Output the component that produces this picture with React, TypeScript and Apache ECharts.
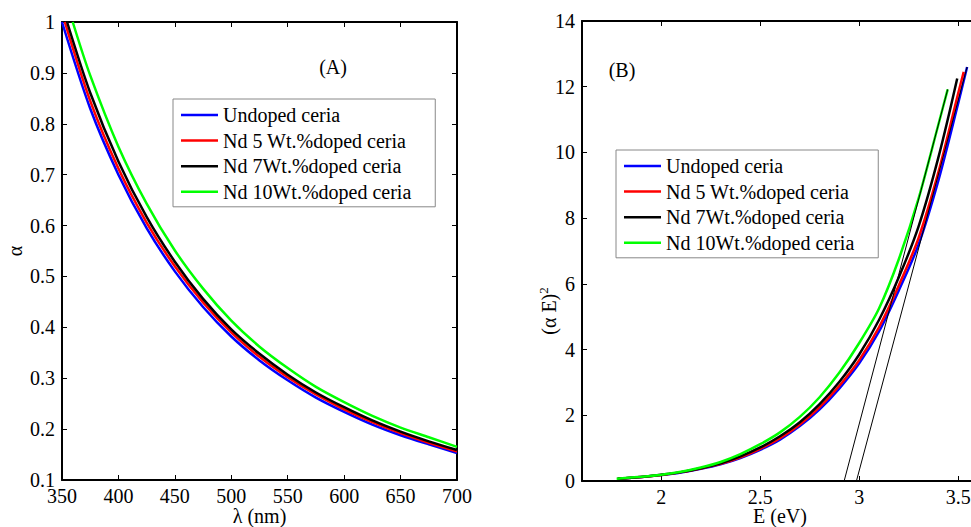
import React, { useEffect, useRef } from "react";
import * as echarts from "echarts";

// ---------- Data ----------
const seriesNames = [
  "Undoped ceria",
  "Nd 5 Wt.%doped ceria",
  "Nd 7Wt.%doped ceria",
  "Nd 10Wt.%doped ceria",
];
const seriesColors = ["#0000ff", "#ff0000", "#000000", "#00ff00"];

// Panel (A): absorption coefficient vs wavelength
const lambdaUndoped = [350, 375, 400, 425, 450, 475, 500, 525, 550, 575, 600, 625, 650, 675, 700];
const alphaUndoped = [1.0, 0.83, 0.7, 0.595, 0.51, 0.44, 0.382, 0.335, 0.296, 0.262, 0.234, 0.209, 0.188, 0.17, 0.153];

const lambdaNd5 = [352.5, 375, 400, 425, 450, 475, 500, 525, 550, 575, 600, 625, 650, 675, 700];
const alphaNd5 = [1.0, 0.845, 0.712, 0.606, 0.52, 0.449, 0.39, 0.342, 0.302, 0.268, 0.239, 0.214, 0.192, 0.173, 0.156];

const lambdaNd7 = [354.5, 375, 400, 425, 450, 475, 500, 525, 550, 575, 600, 625, 650, 675, 700];
const alphaNd7 = [1.0, 0.861, 0.726, 0.617, 0.529, 0.456, 0.396, 0.348, 0.307, 0.272, 0.243, 0.217, 0.195, 0.176, 0.159];

const lambdaNd10 = [359.5, 375, 400, 425, 450, 475, 500, 525, 550, 575, 600, 625, 650, 675, 700];
const alphaNd10 = [1.0, 0.895, 0.755, 0.643, 0.551, 0.476, 0.413, 0.362, 0.32, 0.283, 0.253, 0.226, 0.203, 0.184, 0.165];

// Panel (B): (alpha E)^2 vs photon energy
const energyUndoped = [1.78, 1.9, 2.0, 2.1, 2.2, 2.3, 2.4, 2.5, 2.6, 2.7, 2.8, 2.9, 3.0, 3.1, 3.2, 3.3, 3.4, 3.5, 3.545];
const taucUndoped = [0.07, 0.12, 0.18, 0.26, 0.37, 0.51, 0.7, 0.95, 1.26, 1.67, 2.18, 2.82, 3.58, 4.55, 5.8, 7.2, 9.15, 11.5, 12.6];

const energyNd5 = [1.78, 1.9, 2.0, 2.1, 2.2, 2.3, 2.4, 2.5, 2.6, 2.7, 2.8, 2.9, 3.0, 3.1, 3.2, 3.3, 3.4, 3.5, 3.528];
const taucNd5 = [0.07, 0.12, 0.18, 0.27, 0.38, 0.52, 0.72, 0.98, 1.3, 1.72, 2.25, 2.9, 3.68, 4.68, 5.95, 7.4, 9.4, 11.8, 12.45];

const energyNd7 = [1.78, 1.9, 2.0, 2.1, 2.2, 2.3, 2.4, 2.5, 2.6, 2.7, 2.8, 2.9, 3.0, 3.1, 3.2, 3.3, 3.4, 3.495];
const taucNd7 = [0.07, 0.12, 0.19, 0.27, 0.39, 0.54, 0.75, 1.02, 1.36, 1.79, 2.34, 3.02, 3.85, 4.9, 6.2, 7.75, 9.85, 12.25];

const energyNd10 = [1.775, 1.9, 2.0, 2.1, 2.2, 2.3, 2.4, 2.5, 2.6, 2.7, 2.8, 2.9, 3.0, 3.1, 3.2, 3.3, 3.4, 3.447];
const taucNd10 = [0.07, 0.13, 0.19, 0.28, 0.41, 0.58, 0.82, 1.12, 1.48, 1.95, 2.55, 3.3, 4.2, 5.25, 6.75, 8.6, 10.85, 11.92];

// Extrapolation (tangent) lines
const tangent1Energy = [2.924, 3.447];
const tangent1Value = [0, 11.92];
const tangent2Energy = [2.986, 3.545];
const tangent2Value = [0, 12.6];

// Tick labels / titles
const xTicksB = [2, 2.5, 3, 3.5];
const xNameA = "λ (nm)";
const yNameA = "α";
const xNameB = "E (eV)";

const FONT = "Liberation Serif";

const zip = (xs: number[], ys: number[]) => xs.map((x, i) => [x, ys[i]]);

export default function App() {
  const ref = useRef<HTMLDivElement>(null);

  useEffect(() => {
    if (!ref.current) return;
    const chart = echarts.init(ref.current, undefined, { renderer: "svg" });

    const axisLine = { show: true, onZero: false, lineStyle: { color: "#000", width: 2 } };
    const tick = { show: true, inside: true, length: 5, lineStyle: { color: "#000", width: 1 } };
    const label = { color: "#000", fontSize: 20, fontFamily: FONT };
    const xLabel = { ...label, margin: 8, lineHeight: 16 };

    const panelA = [
      [lambdaUndoped, alphaUndoped],
      [lambdaNd5, alphaNd5],
      [lambdaNd7, alphaNd7],
      [lambdaNd10, alphaNd10],
    ];
    const panelB = [
      [energyUndoped, taucUndoped],
      [energyNd5, taucNd5],
      [energyNd7, taucNd7],
      [energyNd10, taucNd10],
    ];

    const series: any[] = [];
    panelA.forEach(([xs, ys], i) => {
      series.push({
        name: seriesNames[i],
        type: "line",
        xAxisIndex: 0,
        yAxisIndex: 0,
        data: zip(xs, ys),
        symbol: "none",
        smooth: 0.3,
        lineStyle: { color: seriesColors[i], width: 2.5 },
        itemStyle: { color: seriesColors[i] },
      });
    });
    panelB.forEach(([xs, ys], i) => {
      series.push({
        name: seriesNames[i],
        type: "line",
        xAxisIndex: 2,
        yAxisIndex: 2,
        data: zip(xs, ys),
        symbol: "none",
        smooth: 0.3,
        lineStyle: { color: seriesColors[i], width: 2.5 },
        itemStyle: { color: seriesColors[i] },
      });
    });
    [
      [tangent1Energy, tangent1Value],
      [tangent2Energy, tangent2Value],
    ].forEach(([xs, ys], i) => {
      series.push({
        name: "tangent" + (i + 1),
        type: "line",
        xAxisIndex: 2,
        yAxisIndex: 2,
        data: zip(xs, ys),
        symbol: "none",
        lineStyle: { color: "#000", width: 1 },
        z: 5,
      });
    });

    const legendBase = {
      orient: "vertical",
      icon: "rect",
      itemWidth: 37,
      itemHeight: 2.5,
      itemGap: 5.6,
      padding: [6, 24, 5, 8],
      borderColor: "#888",
      borderWidth: 1,
      backgroundColor: "#fff",
      borderRadius: 0,
      textStyle: { color: "#000", fontSize: 20, fontFamily: FONT, lineHeight: 20 },
      data: seriesNames,
      selectedMode: false,
    };

    const txt = (text: string, x: number, y: number, rotation = 0) => ({
      type: "text",
      x,
      y,
      rotation,
      style: { text, fill: "#000", font: `20px ${FONT}`, textAlign: "center", textVerticalAlign: "middle" },
    });

    chart.setOption({
      animation: false,
      backgroundColor: "#fff",
      textStyle: { fontFamily: FONT, color: "#000" },
      grid: [
        { left: 62, top: 22, width: 395, height: 458, show: false, outerBoundsMode: "none", containLabel: false },
        { left: 582, top: 21, width: 396, height: 460, show: false, outerBoundsMode: "none", containLabel: false },
      ],
      xAxis: [
        {
          type: "value", gridIndex: 0, position: "bottom", min: 350, max: 700, interval: 50,
          axisLine, axisTick: tick, splitLine: { show: false },
          axisLabel: xLabel,
        },
        {
          type: "value", gridIndex: 0, position: "top", min: 350, max: 700, interval: 50,
          axisLine, axisTick: tick, splitLine: { show: false }, axisLabel: { show: false },
        },
        {
          type: "value", gridIndex: 1, position: "bottom", min: 1.6, max: 3.6,
          axisLine, splitLine: { show: false },
          axisTick: { ...tick, customValues: xTicksB },
          axisLabel: { ...xLabel, customValues: xTicksB },
        },
        {
          type: "value", gridIndex: 1, position: "top", min: 1.6, max: 3.6,
          axisLine, splitLine: { show: false },
          axisTick: { ...tick, customValues: xTicksB },
          axisLabel: { show: false },
        },
      ],
      yAxis: [
        {
          type: "value", gridIndex: 0, position: "left", min: 0.1, max: 1, interval: 0.1,
          axisLine, axisTick: tick, splitLine: { show: false },
          axisLabel: { ...label, margin: 7 },
        },
        {
          type: "value", gridIndex: 0, position: "right", min: 0.1, max: 1, interval: 0.1,
          axisLine, axisTick: tick, splitLine: { show: false }, axisLabel: { show: false },
        },
        {
          type: "value", gridIndex: 1, position: "left", min: 0, max: 14, interval: 2,
          axisLine, axisTick: tick, splitLine: { show: false },
          axisLabel: { ...label, margin: 7 },
        },
        {
          type: "value", gridIndex: 1, position: "right", min: 0, max: 14, interval: 2,
          axisLine, axisTick: tick, splitLine: { show: false }, axisLabel: { show: false },
        },
      ],
      legend: [
        { ...legendBase, left: 173, top: 99 },
        { ...legendBase, left: 616, top: 150 },
      ],
      graphic: [
        txt("(A)", 333, 67),
        txt("(B)", 622, 70),
        txt(xNameA, 259.5, 516),
        txt(xNameB, 780, 516),
        txt(yNameA, 15, 251, Math.PI / 2),
        {
          type: "text", x: 548, y: 311, rotation: Math.PI / 2,
          style: {
            text: "{a|(α E)}{b|2}",
            fill: "#000",
            textAlign: "center",
            textVerticalAlign: "middle",
            rich: {
              a: { fontSize: 20, fontFamily: FONT, fill: "#000", color: "#000", verticalAlign: "bottom", lineHeight: 22 },
              b: { fontSize: 13, fontFamily: FONT, fill: "#000", color: "#000", verticalAlign: "top", lineHeight: 22, padding: [0, 0, 8, 0] },
            },
          },
        },
      ],
      series,
    });

    return () => chart.dispose();
  }, []);

  return (
    <div
      ref={ref}
      style={{ position: "fixed", left: 0, top: 0, width: 971, height: 527, background: "#fff" }}
    />
  );
}
